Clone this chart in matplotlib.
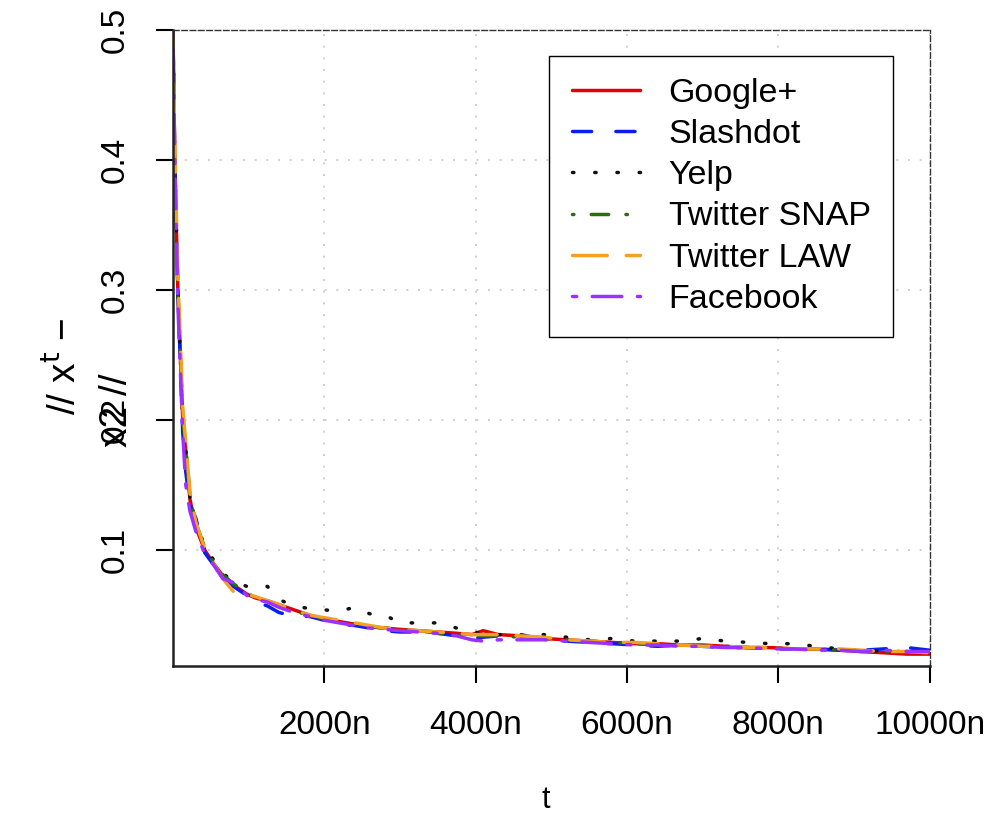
import matplotlib
matplotlib.use('Agg')
import matplotlib.pyplot as plt

plt.rcParams['font.family'] = ['Liberation Sans', 'DejaVu Sans']

# iterations (t) and values of ||x^t - x*||
t = [0, 25, 65, 130, 170, 225, 300, 420, 520, 660,
     800, 980, 1100, 1250, 1400, 1600, 1800, 2000, 2200, 2400,
     2600, 2800, 3000, 3250, 3500, 3750, 3950, 4100, 4300, 4600,
     4900, 5200, 5500, 5800, 6100, 6400, 6700, 7000, 7300, 7600,
     7900, 8200, 8500, 8800, 9100, 9400, 9700, 10000]

google = [0.50, 0.40, 0.30, 0.20, 0.176, 0.139, 0.118, 0.100, 0.091, 0.080,
          0.073, 0.066, 0.063, 0.061, 0.058, 0.054, 0.050, 0.047, 0.045, 0.043,
          0.041, 0.040, 0.039, 0.038, 0.037, 0.036, 0.035, 0.038, 0.035, 0.034,
          0.032, 0.031, 0.030, 0.029, 0.028, 0.028, 0.027, 0.027, 0.026, 0.025,
          0.025, 0.024, 0.024, 0.023, 0.022, 0.021, 0.020, 0.020]
slashdot = [0.50, 0.40, 0.30, 0.19, 0.160, 0.135, 0.125, 0.098, 0.090, 0.079,
            0.072, 0.065, 0.060, 0.057, 0.052, 0.049, 0.049, 0.046, 0.043, 0.042,
            0.040, 0.038, 0.037, 0.037, 0.036, 0.034, 0.032, 0.033, 0.034, 0.035,
            0.031, 0.030, 0.029, 0.028, 0.027, 0.026, 0.027, 0.026, 0.025, 0.025,
            0.024, 0.024, 0.024, 0.023, 0.023, 0.024, 0.025, 0.023]
yelp = [0.50, 0.40, 0.30, 0.20, 0.178, 0.140, 0.120, 0.104, 0.094, 0.082,
        0.076, 0.072, 0.073, 0.072, 0.062, 0.057, 0.055, 0.054, 0.053, 0.056,
        0.051, 0.050, 0.044, 0.044, 0.044, 0.040, 0.037, 0.036, 0.035, 0.034,
        0.035, 0.033, 0.031, 0.032, 0.030, 0.030, 0.030, 0.032, 0.030, 0.029,
        0.028, 0.028, 0.026, 0.024, 0.023, 0.022, 0.022, 0.021]
snap = [0.50, 0.40, 0.30, 0.20, 0.180, 0.142, 0.121, 0.102, 0.092, 0.081,
        0.074, 0.067, 0.063, 0.060, 0.057, 0.053, 0.050, 0.047, 0.045, 0.043,
        0.041, 0.040, 0.039, 0.038, 0.036, 0.035, 0.034, 0.034, 0.034, 0.033,
        0.032, 0.031, 0.030, 0.029, 0.028, 0.027, 0.027, 0.026, 0.026, 0.025,
        0.025, 0.024, 0.024, 0.023, 0.022, 0.022, 0.022, 0.021]
law = [0.50, 0.41, 0.31, 0.21, 0.182, 0.144, 0.122, 0.101, 0.091, 0.078,
       0.068, 0.066, 0.064, 0.061, 0.058, 0.054, 0.050, 0.048, 0.046, 0.044,
       0.042, 0.040, 0.039, 0.038, 0.037, 0.036, 0.035, 0.035, 0.035, 0.034,
       0.033, 0.031, 0.030, 0.029, 0.029, 0.028, 0.027, 0.026, 0.026, 0.025,
       0.025, 0.024, 0.024, 0.024, 0.023, 0.022, 0.022, 0.021]
facebook = [0.50, 0.40, 0.29, 0.19, 0.150, 0.130, 0.115, 0.097, 0.090, 0.078,
            0.075, 0.065, 0.062, 0.060, 0.056, 0.052, 0.049, 0.046, 0.044, 0.042,
            0.040, 0.039, 0.038, 0.037, 0.036, 0.034, 0.031, 0.030, 0.031, 0.031,
            0.031, 0.030, 0.029, 0.028, 0.027, 0.027, 0.026, 0.026, 0.025, 0.025,
            0.024, 0.024, 0.023, 0.023, 0.022, 0.023, 0.022, 0.022]

labels = ['Google+', 'Slashdot', 'Yelp', 'Twitter SNAP', 'Twitter LAW', 'Facebook']
series = [google, slashdot, yelp, snap, law, facebook]
colors = ['#e00000', '#0a1ef0', '#111111', '#2f6a10', '#f5a020', '#9b30ff']
styles = ['-', (0, (5.5, 7)), (0, (0.4, 6)), (0, (0.4, 5, 5, 5)),
          (0, (10, 5.5)), (0, (1.2, 4.5, 8.5, 4.5))]

xticks = [2000, 4000, 6000, 8000, 10000]
xticklabels = ['2000n', '4000n', '6000n', '8000n', '10000n']
yticks = [0.1, 0.2, 0.3, 0.4, 0.5]

fig = plt.figure(figsize=(9.88, 8.22), dpi=100)
ax = fig.add_axes([0.175, 0.190, 0.766, 0.774])

for vals, lab, col, ls in zip(series, labels, colors, styles):
    ax.plot(t, vals, color=col, linestyle=ls, linewidth=2.5, label=lab,
            dash_capstyle='round', solid_capstyle='round')

ax.set_xlim(0, 10000)
ax.set_ylim(0.011, 0.5)
ax.set_xticks(xticks)
ax.set_xticklabels(xticklabels)
ax.set_yticks(yticks)
ax.set_yticklabels([str(v) for v in yticks], rotation=90, va='center')
ax.tick_params(axis='both', labelsize=24, length=12, width=1.5, direction='out')
ax.tick_params(axis='x', pad=20)
ax.tick_params(axis='y', pad=18)

ax.grid(True, color='#cfcfcf', linestyle=(0, (1, 5)), linewidth=1.4)

for side in ['left', 'bottom']:
    ax.spines[side].set_linewidth(1.8)
    ax.spines[side].set_color('#222222')
for side in ['top', 'right']:
    ax.spines[side].set_linestyle((0, (4, 2)))
    ax.spines[side].set_linewidth(1.0)
    ax.spines[side].set_color('#333333')

leg = ax.legend(loc='upper right', bbox_to_anchor=(0.951, 0.959), borderaxespad=0,
                fontsize=24.5, handlelength=2.0, handletextpad=0.85, labelspacing=0.3,
                fancybox=False, edgecolor='black', framealpha=1, borderpad=0.65)
leg.get_frame().set_linewidth(1.0)

fig.text(0.066, 0.555, '// x$^{\\mathrm{t}}$ \u2212', rotation=90, fontsize=28,
         ha='center', va='center')
fig.text(0.118, 0.501, 'x2 //', rotation=90, fontsize=28, ha='center', va='center')
fig.text(0.552, 0.027, 't', fontsize=22, ha='center', va='center')

fig.savefig('out.png', dpi=100, facecolor='white')
